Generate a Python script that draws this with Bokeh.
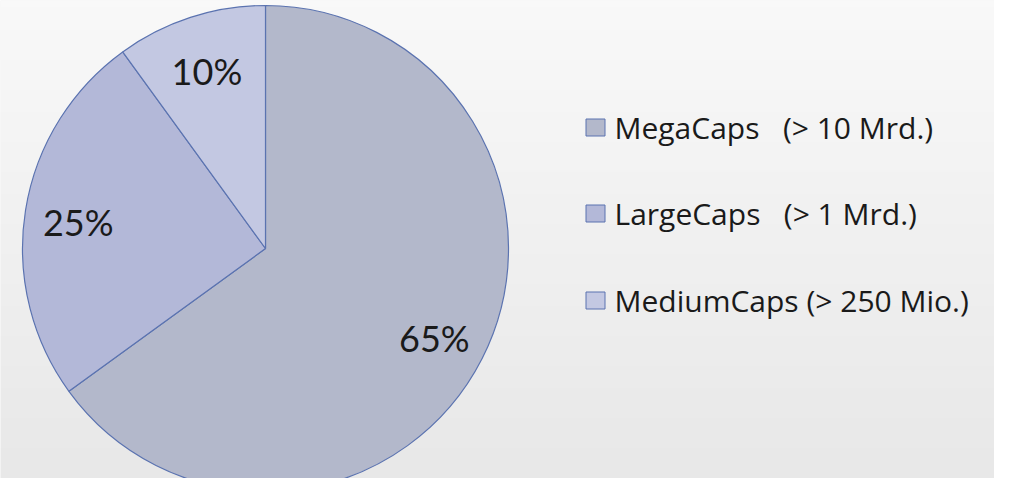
import numpy as np
from bokeh.plotting import figure
from bokeh.models import Range1d, ColumnDataSource
from bokeh.core.properties import value
from bokeh.embed import file_html
from bokeh.resources import INLINE

NB = "\u00a0"
categories = ["MegaCaps" + NB * 3 + "(> 10 Mrd.)",
              "LargeCaps" + NB * 3 + "(> 1 Mrd.)",
              "MediumCaps" + NB + "(> 250 Mio.)"]
shares = [65, 25, 10]
pct_labels = ["65%", "25%", "10%"]
colors = ["#B3B8CB", "#B3B8D8", "#C3C8E2"]

W, H = 994, 478
p = figure(width=W, height=H, output_backend="svg", toolbar_location=None,
           x_range=Range1d(0, W), y_range=Range1d(0, H), min_border=0)
p.axis.visible = False
p.grid.visible = False
p.outline_line_color = None
p.background_fill_color = "#F2F2F2"
p.border_fill_color = "#F2F2F2"

# background gradient (decorative)
ny = 64
g = np.linspace(0, 1, ny)[:, None] * np.ones((1, 8))
shade = (232 + (249 - 232) * g).astype(np.uint32)
img = np.empty((ny, 8), dtype=np.uint32)
view = img.view(dtype=np.uint8).reshape((ny, 8, 4))
view[:, :, 0] = shade
view[:, :, 1] = shade
view[:, :, 2] = shade
view[:, :, 3] = 255
p.image_rgba(image=[img], x=0, y=0, dw=W, dh=H)

cx, cy, r = 265, H - 248, 243
total = float(sum(shares))
fr = np.array(shares) / total
cum = np.concatenate([[0], np.cumsum(fr)])
start = np.pi / 2 - 2 * np.pi * cum[:-1]
end = np.pi / 2 - 2 * np.pi * cum[1:]
mid = (start + end) / 2

src = ColumnDataSource(dict(start=start, end=end, color=colors))
p.wedge(x=cx, y=cy, radius=r, start_angle="start", end_angle="end", direction="clock",
        fill_color="color", line_color="#5B73B0", line_width=1.2, source=src)

lx = cx + 0.78 * r * np.cos(mid)
lyy = cy + 0.78 * r * np.sin(mid) - 3
lsrc = ColumnDataSource(dict(x=lx, y=lyy, t=pct_labels))
p.text(x="x", y="y", text="t", source=lsrc, text_align="center", text_baseline="middle",
       text_font=value("Lato"), text_font_size="36px", text_color="#1A1A1A")

# legend
ly = [H - 127, H - 213, H - 300]
legsrc = ColumnDataSource(dict(x=[595] * 3, y=ly, color=colors, t=categories))
p.rect(x="x", y="y", width=19, height=17, fill_color="color", line_color="#5B73B0",
       line_width=1, source=legsrc)
p.text(x=614, y="y", text="t", source=legsrc, text_align="left", text_baseline="middle",
       text_font=value("Open Sans"), text_font_size="30px", text_color="#1A1A1A")

open("out.html", "w").write(file_html(p, INLINE))
